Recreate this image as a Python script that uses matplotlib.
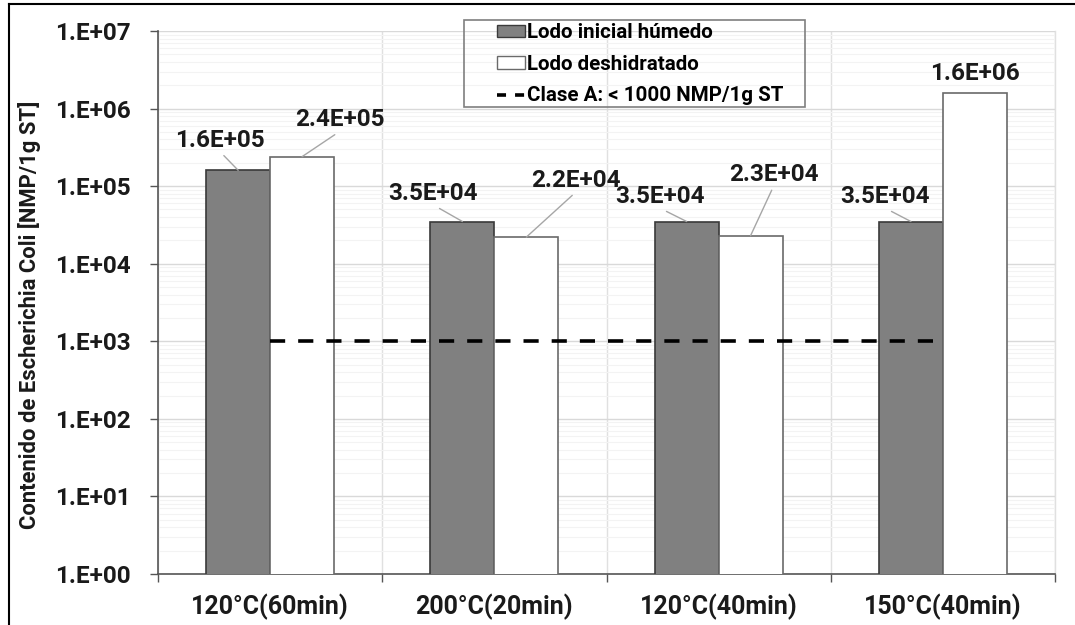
import numpy as np
import matplotlib
matplotlib.use("Agg")
import matplotlib.pyplot as plt
from matplotlib.ticker import FixedLocator, FuncFormatter, LogLocator, NullFormatter
from matplotlib.patches import Rectangle, Patch
from matplotlib.lines import Line2D

categories = ["120°C(60min)", "200°C(20min)", "120°C(40min)", "150°C(40min)"]
humedo = [1.6e5, 3.5e4, 3.5e4, 3.5e4]
deshidratado = [2.4e5, 2.2e4, 2.3e4, 1.6e6]
humedo_labels = ["1.6E+05", "3.5E+04", "3.5E+04", "3.5E+04"]
deshid_labels = ["2.4E+05", "2.2E+04", "2.3E+04", "1.6E+06"]
clase_a = [1000, 1000, 1000, 1000]
y_decades = [0, 1, 2, 3, 4, 5, 6, 7]
series_names = ["Lodo inicial húmedo", "Lodo deshidratado", "Clase A: < 1000 NMP/1g ST"]
ylabel = "Contenido de Escherichia Coli [NMP/1g ST]"

# label offsets in pixels (dx, dy) from the bar top centre, and leader flag
h_off = [(-18, 30), (-29, 28), (-27, 25), (-26, 25)]
d_off = [(38, 37), (50, 57), (23, 61), (0, 19)]
h_lead = [True, True, True, True]
d_lead = [True, True, True, False]

FONT = ['Roboto', 'DejaVu Sans']
plt.rcParams['font.family'] = FONT
plt.rcParams['font.weight'] = 'bold'

W, H = 1075, 625
fig = plt.figure(figsize=(W / 100, H / 100), dpi=100)
ax = fig.add_axes([158 / W, 1 - 574 / H, (1055 - 158) / W, (574 - 31) / H])

x = np.arange(len(categories))
bw = 0.285
dark = "#808080"
ax.bar(x - bw / 2, humedo, bw, color=dark, edgecolor="#3a3a3a", linewidth=1.2, zorder=3)
ax.bar(x + bw / 2, deshidratado, bw, color="white", edgecolor="#6a6a6a", linewidth=1.2, zorder=3)
ax.plot(x, clase_a, color="black", lw=2.6, dashes=(4.2, 3.6), zorder=4)

ax.set_yscale("log")
ax.set_ylim(1, 1e7)
ax.set_xlim(-0.5, len(categories) - 0.5)

yt = [10.0 ** d for d in y_decades]
ax.yaxis.set_major_locator(FixedLocator(yt))
ax.yaxis.set_minor_locator(LogLocator(base=10, subs=np.arange(2, 10), numticks=20))
ax.yaxis.set_minor_formatter(NullFormatter())
ax.yaxis.set_major_formatter(FuncFormatter(lambda v, p: "1.E+%02d" % int(round(np.log10(v)))))

FS = 17.5
ax.set_xticks(x)
ax.set_xticklabels(categories)
ax.xaxis.set_minor_locator(FixedLocator(np.arange(-0.5, len(categories), 1.0)))
ax.xaxis.set_minor_formatter(NullFormatter())
ax.tick_params(axis="x", which="major", length=0, pad=14, labelsize=18, labelcolor="#1a1a1a")
ax.tick_params(axis="x", which="minor", length=5.5, width=1, color="#555555", direction="out")
ax.tick_params(axis="y", which="major", length=5.5, width=1, color="#555555", labelsize=FS,
               labelcolor="#1a1a1a", pad=14)
ax.tick_params(axis="y", which="minor", length=0)

ax.grid(True, axis="y", which="major", color="#d9d9d9", lw=1.0, zorder=0)
ax.grid(True, axis="y", which="minor", color="#f3f3f3", lw=0.8, zorder=0)
ax.grid(True, axis="x", which="minor", color="#e0e0e0", lw=1.0, zorder=0)
ax.set_axisbelow(True)
for s in ["top", "right"]:
    ax.spines[s].set_visible(False)
for s in ["left", "bottom"]:
    ax.spines[s].set_color("#555555")
    ax.spines[s].set_linewidth(1.2)
ax.plot([1, 1], [0, 1], transform=ax.transAxes, color="#e0e0e0", lw=1.0, zorder=0, clip_on=False)

def label(xpos, val, txt, off, lead):
    kw = dict(xy=(xpos, val), xytext=off, textcoords="offset pixels",
              ha="center", va="center", fontsize=FS, fontweight="bold", color="#1a1a1a",
              zorder=6)
    if lead:
        kw["arrowprops"] = dict(arrowstyle="-", color="#a6a6a6", lw=1.0, shrinkA=1, shrinkB=0,
                                relpos=(0.5, 0.0))
    ax.annotate(txt, **kw)

for i in range(len(categories)):
    label(x[i] - bw / 2, humedo[i], humedo_labels[i], h_off[i], h_lead[i])
    label(x[i] + bw / 2, deshidratado[i], deshid_labels[i], d_off[i], d_lead[i])

fig.text(30 / W, 1 - 315 / H, ylabel, rotation=90, ha="center", va="center",
         fontsize=15.8, fontweight="bold", color="#1a1a1a")

# legend
fig.patches.append(Rectangle((464 / W, 1 - 107 / H), (805 - 464) / W, (107 - 20) / H,
                             transform=fig.transFigure, fill=False, edgecolor="#7f7f7f", lw=1.2))
handles = [Patch(facecolor=dark, edgecolor="#3a3a3a", lw=1.0),
           Patch(facecolor="white", edgecolor="#6a6a6a", lw=1.0),
           Line2D([], [], color="black", lw=2.6, dashes=(2.5, 2.5))]
fig.legend(handles, series_names, loc="upper left", bbox_to_anchor=(497 / W, 1 - 23 / H),
           frameon=False, handlelength=1.35, handleheight=0.55, handletextpad=0.12,
           labelspacing=0.62, borderpad=0.0, borderaxespad=0.0,
           prop={"family": FONT, "weight": "bold", "size": 14.8})

# outer border (top and left)
fig.add_artist(Line2D([9 / W, 1.0], [1 - 4 / H, 1 - 4 / H], transform=fig.transFigure, color="black", lw=1.5))
fig.add_artist(Line2D([9 / W, 9 / W], [0, 1 - 4 / H], transform=fig.transFigure, color="black", lw=1.5))

fig.savefig("out.png", dpi=100)
